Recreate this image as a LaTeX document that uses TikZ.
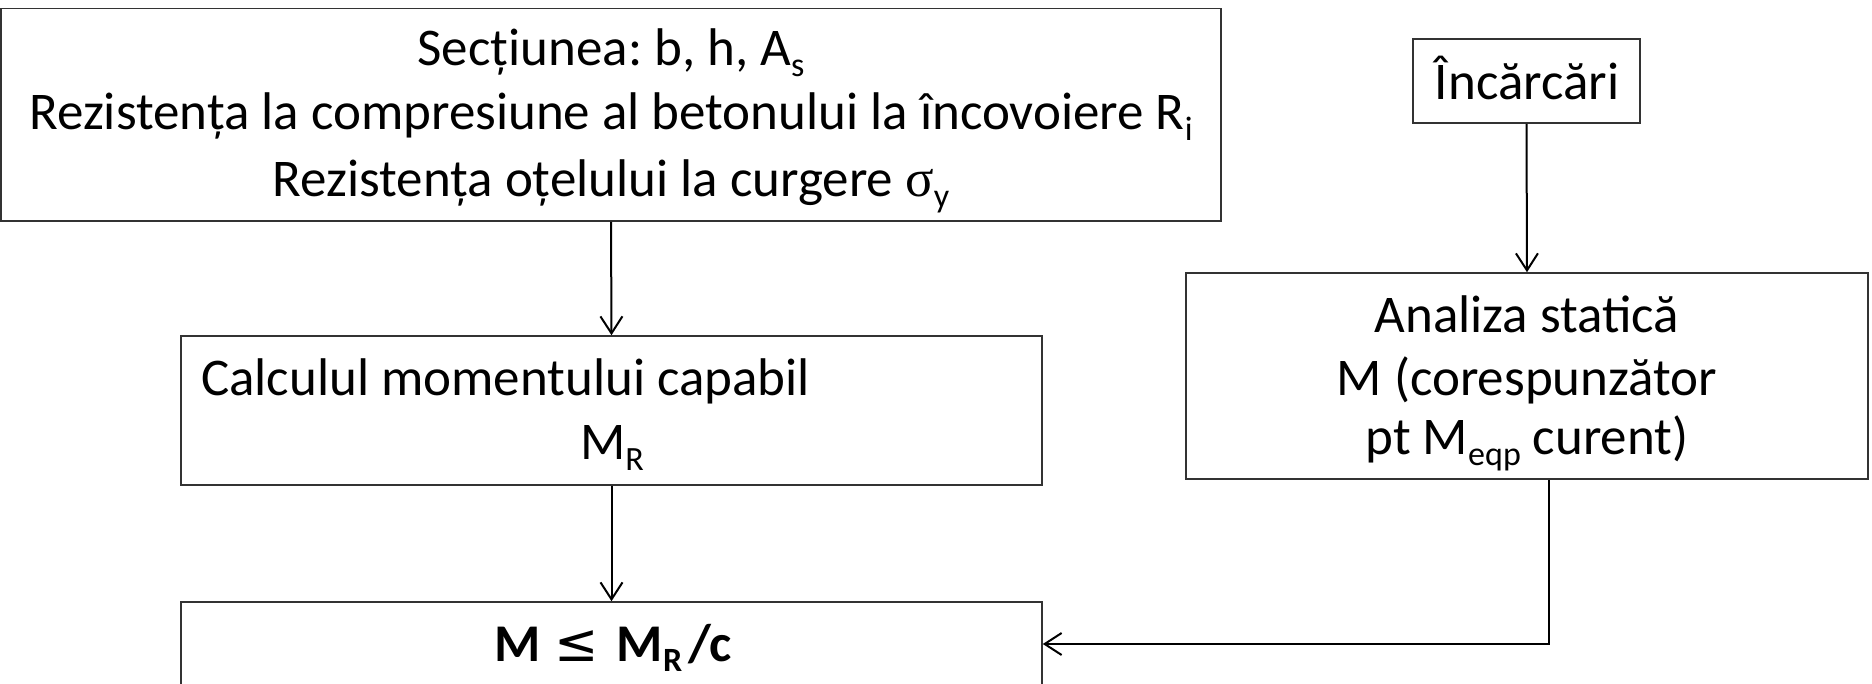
\documentclass[tikz,border=0pt]{standalone}
\usepackage{fontspec}
\setmainfont{Carlito}
\newfontfamily\symf{Liberation Serif}
\newfontfamily\djv{DejaVu Sans}
\usetikzlibrary{arrows.meta}
\newcommand\sbs[1]{\raisebox{-0.2em}{\fontsize{34}{34}\selectfont #1}}
\frenchspacing
\begin{document}
\begin{tikzpicture}[x=1pt,y=-1pt,
  box/.style={draw=black!80, line width=1.6pt, rectangle, inner sep=0pt},
  txt/.style={font=\fontsize{53}{64}\selectfont, inner sep=0pt, anchor=base},
  arr/.style={draw=black, line width=2pt, -{Straight Barb[length=17pt,width=22pt]}}]
\useasboundingbox (0,0) rectangle (1872,684);
% boxes
\node[box, minimum width=1220pt, minimum height=212.5pt] (sec) at (611,114.75) {};
\node[box, minimum width=227pt, minimum height=84pt] (inc) at (1526.5,81) {};
\node[box, minimum width=682pt, minimum height=206pt] (an) at (1527,376) {};
\node[box, minimum width=861pt, minimum height=149pt] (calc) at (611.5,410.5) {};
\node[box, minimum width=861pt, minimum height=84pt] (bot) at (611.5,644) {};
% texts
\node[txt] (t1) at (611,66) {Secțiunea: b, h, A\sbs{s}};
\node[txt] (t2) at (611,130) {Rezistența la compresiune al betonului la încovoiere R\sbs{i}};
\node[txt] (t3) at (611,197) {Rezistența oțelului la curgere {\symf σ}\sbs{y}};
\node[txt] (inct) at (1527,100) {Încărcări};
\node[txt] (an1) at (1527,333) {Analiza statică};
\node[txt] (an2) at (1527,396) {M (corespunzător};
\node[txt] (an3) at (1527,455) {pt M\sbs{eqp} curent)};
\node[txt, anchor=base west] (c1) at (201,396) {Calculul momentului capabil};
\node[txt] (c2) at (612,460) {M\sbs{R}};
\node[txt, font=\fontsize{53}{64}\selectfont\bfseries] (b1) at (613,661)
  {M\hspace{14pt}{\djv\mdseries ≤}\hspace{18pt}M\sbs{R}\hspace{6pt}/c};
% connectors
\coordinate (corner) at (1549,644);
\draw[arr] (sec.south) -- (calc.north);
\draw[arr] (inc.south) -- (an.north);
\draw[arr] (calc.south) -- (bot.north);
\draw[arr] (corner |- an.south) |- (bot.east);
\end{tikzpicture}
\end{document}
